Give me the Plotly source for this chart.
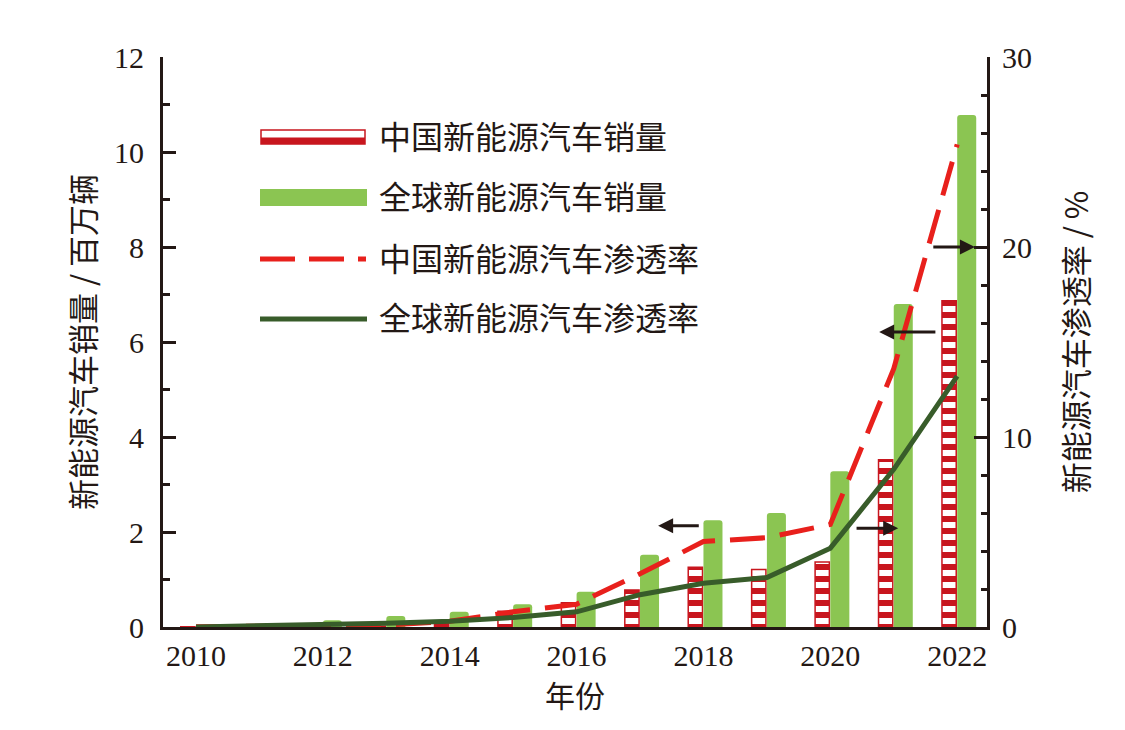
import plotly.graph_objects as go

years = [2010, 2011, 2012, 2013, 2014, 2015, 2016, 2017, 2018, 2019, 2020, 2021, 2022]
china_sales = [0.005, 0.008, 0.013, 0.018, 0.075, 0.33, 0.51, 0.78, 1.26, 1.21, 1.37, 3.52, 6.87]
global_sales = [0.01, 0.05, 0.14, 0.23, 0.32, 0.48, 0.74, 1.52, 2.25, 2.40, 3.28, 6.80, 10.78]
china_pen = [0.01, 0.04, 0.07, 0.1, 0.3, 0.8, 1.2, 2.8, 4.5, 4.7, 5.4, 13.6, 25.4]
global_pen = [0.0, 0.05, 0.13, 0.2, 0.3, 0.5, 0.8, 1.7, 2.3, 2.6, 4.15, 8.3, 13.2]

x_ticks = [2010, 2012, 2014, 2016, 2018, 2020, 2022]
names = ["中国新能源汽车销量", "全球新能源汽车销量", "中国新能源汽车渗透率", "全球新能源汽车渗透率"]

# arrows: (head_x, head_y, tail_x, tail_y) in left-axis data units
arrows = [
    (2017.285, 2.13, 2017.95, 2.13),
    (2021.07, 2.08, 2020.39, 2.08),
    (2020.77, 6.21, 2021.68, 6.21),
    (2022.28, 8.0, 2021.60, 8.0),
]

RED_BAR = "#C8161E"
GREEN_BAR = "#8BC552"
RED_LINE = "#E8201C"
GREEN_LINE = "#385C2A"
INK = "#231815"
FONT = "Liberation Serif, Noto Sans CJK SC, serif"
CJK = "Noto Sans CJK SC"

# plot area in page pixels (page has 8px body margin)
PL, PR, PT, PB = 163, 987, 57, 627


def px(x):
    return (x - PL) / (PR - PL)


def py(y):
    return (PB - y) / (PB - PT)


fig = go.Figure()
fig.add_trace(go.Bar(
    x=years, y=china_sales, name=names[0], showlegend=False,
    width=0.225, offset=-0.24,
    marker=dict(color="white", line=dict(color=RED_BAR, width=1.5),
                pattern=dict(shape="-", fgcolor=RED_BAR, fgopacity=1, bgcolor="white",
                             size=12, solidity=0.5)),
))
fig.add_trace(go.Bar(
    x=years, y=global_sales, name=names[1], showlegend=False,
    width=0.3, offset=0.0,
    marker=dict(color=GREEN_BAR, line=dict(width=0), cornerradius=3),
))
fig.add_trace(go.Scatter(
    x=years, y=china_pen, name=names[2], showlegend=False, yaxis="y2", mode="lines",
    line=dict(color=RED_LINE, width=5, dash="35px,15px"),
))
fig.add_trace(go.Scatter(
    x=years, y=global_pen, name=names[3], showlegend=False, yaxis="y2", mode="lines",
    line=dict(color=GREEN_LINE, width=5),
))

for hx, hy, tx, ty in arrows:
    fig.add_annotation(x=hx, y=hy, ax=tx, ay=ty, xref="x", yref="y", axref="x", ayref="y",
                       showarrow=True, arrowhead=2, arrowsize=1, arrowwidth=3,
                       arrowcolor=INK, text="", standoff=0)

# legend (drawn by hand to match the wide legend keys)
shapes = [
    dict(type="rect", xref="paper", yref="paper", x0=px(261), x1=px(365), y0=py(144), y1=py(130),
         fillcolor="white", line=dict(color=RED_BAR, width=1.5)),
    dict(type="rect", xref="paper", yref="paper", x0=px(261), x1=px(365), y0=py(144), y1=py(137.5),
         fillcolor=RED_BAR, line=dict(width=0)),
    dict(type="rect", xref="paper", yref="paper", x0=px(260), x1=px(367), y0=py(206), y1=py(189),
         fillcolor=GREEN_BAR, line=dict(width=0)),
    dict(type="line", xref="paper", yref="paper", x0=px(260), x1=px(366), y0=py(259), y1=py(259),
         line=dict(color=RED_LINE, width=5, dash="35px,14px")),
    dict(type="line", xref="paper", yref="paper", x0=px(260), x1=px(367), y0=py(319), y1=py(319),
         line=dict(color=GREEN_LINE, width=5)),
]
legend_y = [135, 195, 257, 316]
for name, yy in zip(names, legend_y):
    fig.add_annotation(x=px(377), y=py(yy), xref="paper", yref="paper", text=name,
                       showarrow=False, xanchor="left", yanchor="middle",
                       font=dict(family=CJK, size=32, color=INK))

fig.update_layout(
    width=1109, height=714,
    margin=dict(l=PL - 8, r=1117 - PR, t=PT - 8, b=722 - PB),
    paper_bgcolor="white", plot_bgcolor="white",
    font=dict(family=FONT, size=30, color=INK),
    barmode="overlay",
    showlegend=False,
    shapes=shapes,
    xaxis=dict(range=[2009.48, 2022.47], tickvals=x_ticks, ticks="", showline=True,
               linewidth=3, linecolor=INK, showgrid=False, zeroline=False,
               title=dict(text="年份", font=dict(family=CJK, size=30), standoff=8),
               tickfont=dict(size=30)),
    yaxis=dict(range=[0, 12], dtick=2, ticks="inside", ticklen=13, tickwidth=3, tickcolor=INK,
               minor=dict(dtick=1, ticks="inside", ticklen=7, tickwidth=3, tickcolor=INK),
               showline=True, linewidth=3, linecolor=INK, showgrid=False, zeroline=False,
               ticklabelstandoff=10,
               title=dict(text="新能源汽车销量 / 百万辆", font=dict(family=CJK, size=31), standoff=10),
               tickfont=dict(size=30)),
    yaxis2=dict(range=[0, 30], dtick=10, overlaying="y", side="right",
                ticks="inside", ticklen=13, tickwidth=3, tickcolor=INK,
                minor=dict(dtick=2, ticks="inside", ticklen=6, tickwidth=3, tickcolor=INK),
                showline=True, linewidth=3, linecolor=INK, showgrid=False, zeroline=False,
                ticklabelstandoff=6,
                title=dict(text="新能源汽车渗透率 / %", font=dict(family=CJK, size=31), standoff=36),
                tickfont=dict(size=30)),
)

fig.write_html("out.html")
